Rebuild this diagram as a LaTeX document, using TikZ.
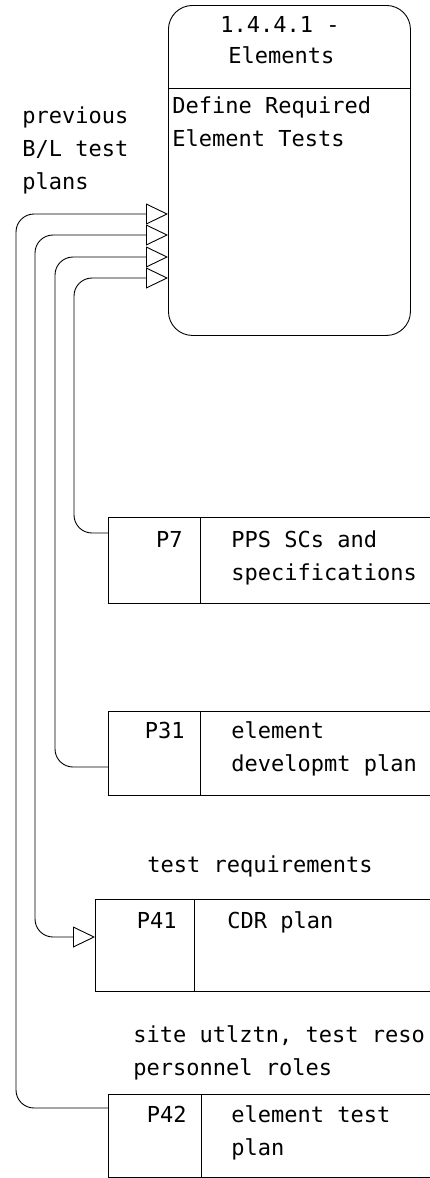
\documentclass[tikz,border=0pt]{standalone}
\usepackage{fontspec}
\newfontfamily\plotfont{DejaVu Sans Mono}
\usetikzlibrary{arrows.meta}

\tikzset{
	process/.style = {draw, rounded corners = 24pt, minimum width = 242pt, minimum height = 330pt, anchor = north west, inner sep = 0pt},
	storeid/.style = {draw, anchor = north west, inner sep = 0pt},
	flow/.style = {rounded corners = 18pt},
	txt/.style = {inner sep = 0pt, align = left},
	opentip/.tip = {Triangle[open, length = 22pt, width = 21pt]}
}

\begin{document}
\begin{tikzpicture}[x = 1pt, y = -1pt, line width = 0.9pt, font = \plotfont\fontsize{22}{33}\selectfont]

	\useasboundingbox (0, 0) rectangle (430, 1178);

	\node [process] (proc) at (168, 5) {};
	\draw ([yshift = -83pt] proc.north west) -- ([yshift = -83pt] proc.north east);
	\node [txt, anchor = base west] (procnum) at (220, 32) {1.4.4.1 -};
	\node [txt, anchor = base west] (procname) at (228, 63) {Elements};
	\node [txt, anchor = north west] (procdesc) at (172, 96) {Define Required\\Element Tests};

	\node [storeid, minimum width = 92pt, minimum height = 86pt] (p7) at (108, 517) {};
	\node [storeid, minimum width = 92pt, minimum height = 84pt] (p31) at (108, 711) {};
	\node [storeid, minimum width = 99pt, minimum height = 92pt] (p41) at (95, 899) {};
	\node [storeid, minimum width = 93pt, minimum height = 83pt] (p42) at (108, 1094) {};

	\foreach \s in {p7, p31, p41, p42} {
		\draw (\s.north east) -- +(240, 0);
		\draw (\s.south east) -- +(240, 0);
	}

	\node [txt, anchor = base east] (p7id) at (183, 547) {P7};
	\node [txt, anchor = north west] (p7name) at (231, 530) {PPS SCs and\\specifications};
	\node [txt, anchor = base east] (p31id) at (185, 738) {P31};
	\node [txt, anchor = north west] (p31name) at (231, 721) {element\\developmt plan};
	\node [txt, anchor = base east] (p41id) at (177, 928) {P41};
	\node [txt, anchor = base west] (p41name) at (227, 928) {CDR plan};
	\node [txt, anchor = base east] (p42id) at (187, 1122) {P42};
	\node [txt, anchor = north west] (p42name) at (231, 1105) {element test\\plan};

	\node [txt, anchor = north west] (prevplans) at (22, 106) {previous\\B/L test\\plans};
	\node [txt, anchor = base west] (testreq) at (147, 872) {test requirements};
	\node [txt, anchor = north west] (siteuse) at (133, 1025) {site utlztn, test reso\\personnel roles};

	\begin{scope}[flow]

		\draw [-opentip] ([yshift = -14pt] p42.north west) -| ([xshift = -152pt, yshift = -209pt] proc.north west) -- ([yshift = -209pt] proc.north west);
		\draw [opentip-opentip] ([yshift = -38pt] p41.north west) -| ([xshift = -133pt, yshift = -230pt] proc.north west) -- ([yshift = -230pt] proc.north west);
		\draw [-opentip] ([yshift = -56pt] p31.north west) -| ([xshift = -113pt, yshift = -252pt] proc.north west) -- ([yshift = -252pt] proc.north west);
		\draw [-opentip] ([yshift = -16pt] p7.north west) -| ([xshift = -94pt, yshift = -273pt] proc.north west) -- ([yshift = -273pt] proc.north west);

	\end{scope}

\end{tikzpicture}
\end{document}
